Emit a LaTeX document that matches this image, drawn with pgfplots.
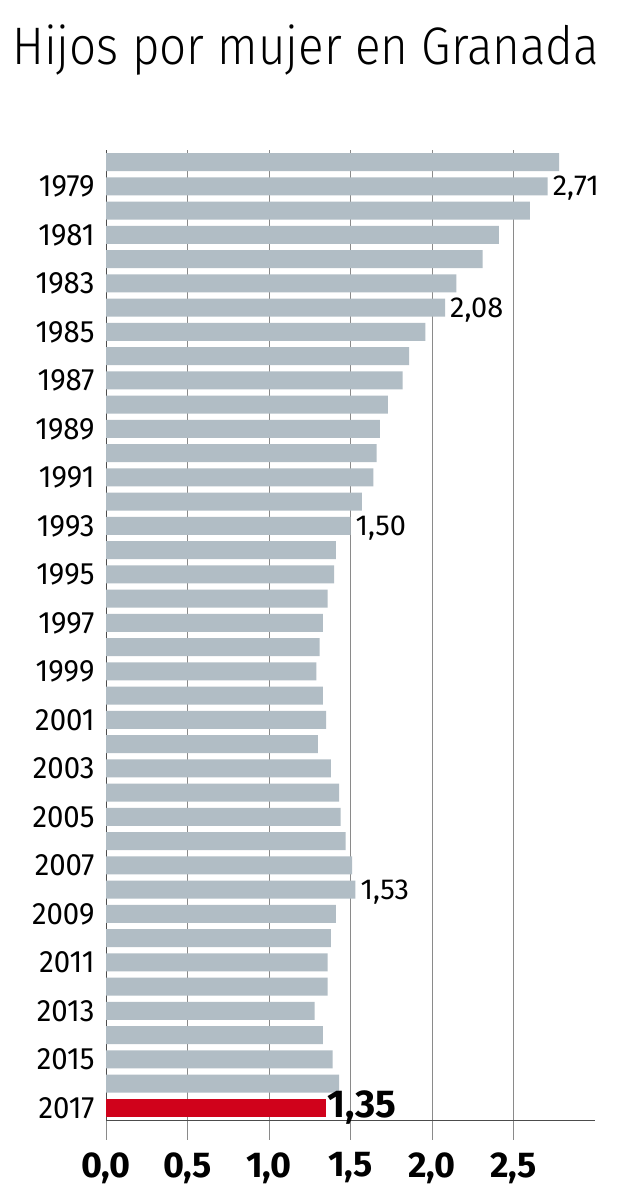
\documentclass[border=0pt]{standalone}
\usepackage{pgfplots}
\pgfplotsset{compat=1.18}
\usepackage{fontspec}
\setmainfont{Fira Sans}
\newfontfamily\titlefont{Fira Sans Light}[FakeStretch=0.9]
\newfontfamily\yearfont{Fira Sans}[FakeStretch=0.95]
\definecolor{bargray}{HTML}{B1BDC5}
\definecolor{barred}{HTML}{D0021B}
\definecolor{gridgray}{HTML}{8A8A8A}

\begin{document}
\begin{tikzpicture}
\path[use as bounding box, fill=white] (0,0) rectangle (624bp,1193bp);
\node[anchor=base west, font=\titlefont\fontsize{53}{60}\selectfont, inner sep=0pt] at (12bp,1128bp) {Hijos por mujer en Granada};
\begin{axis}[
    at={(106bp,73bp)}, anchor=south west,
    scale only axis,
    width=489bp, height=970bp,
    xbar, bar shift=0pt, bar width=18bp,
    xmin=0, xmax=3,
    ymin=1977.5, ymax=2017.5,
    y dir=reverse,
    axis x line*=bottom, axis y line*=left,
    axis line style={draw=black!70, line width=0.8bp},
    xtick={0,0.5,1,1.5,2,2.5},
    xticklabels={{0,0},{0,5},{1,0},{1,5},{2,0},{2,5}},
    xticklabel style={font=\bfseries\fontsize{36}{38}\selectfont, yshift=-9bp},
    ytick={1979,1981,...,2017},
    /pgf/number format/assume math mode=true,
    yticklabel style={font=\yearfont\fontsize{31}{34}\selectfont, xshift=12bp,
        /pgf/number format/1000 sep={}},
    xmajorgrids,
    grid style={gridgray, line width=0.6bp},
    tick align=outside,
    major tick length=20bp,
    xtick style={gridgray, line width=0.6bp},
    ytick style={draw=none},
    clip=false,
]

% hijos por mujer, 1978-2016
\addplot[fill=bargray, draw=none] coordinates {
    (2.78,1978) (2.71,1979) (2.60,1980) (2.41,1981) (2.31,1982)
    (2.15,1983) (2.08,1984) (1.96,1985) (1.86,1986) (1.82,1987)
    (1.73,1988) (1.68,1989) (1.66,1990) (1.64,1991) (1.57,1992)
    (1.50,1993) (1.41,1994) (1.40,1995) (1.36,1996) (1.33,1997)
    (1.31,1998) (1.29,1999) (1.33,2000) (1.35,2001) (1.30,2002)
    (1.38,2003) (1.43,2004) (1.44,2005) (1.47,2006) (1.51,2007)
    (1.53,2008) (1.41,2009) (1.38,2010) (1.36,2011) (1.36,2012)
    (1.28,2013) (1.33,2014) (1.39,2015) (1.43,2016)
};
% 2017 en rojo
\addplot[fill=barred, draw=none] coordinates {(1.35,2017)};

% etiquetas de valor
\addplot[draw=none, fill=none,
    nodes near coords, point meta=explicit symbolic,
    nodes near coords style={anchor=west, inner sep=5bp, yshift=-2bp, text=black,
        font=\fontsize{29}{30}\selectfont}]
    coordinates {(2.71,1979) [2,71] (2.08,1984) [2,08] (1.50,1993) [1,50] (1.53,2008) [1,53]};
\addplot[draw=none, fill=none,
    nodes near coords, point meta=explicit symbolic,
    nodes near coords style={anchor=west, inner sep=1bp, text=black,
        font=\bfseries\fontsize{39}{40}\selectfont}]
    coordinates {(1.35,2017) [1,35]};
\end{axis}
\end{tikzpicture}
\end{document}
